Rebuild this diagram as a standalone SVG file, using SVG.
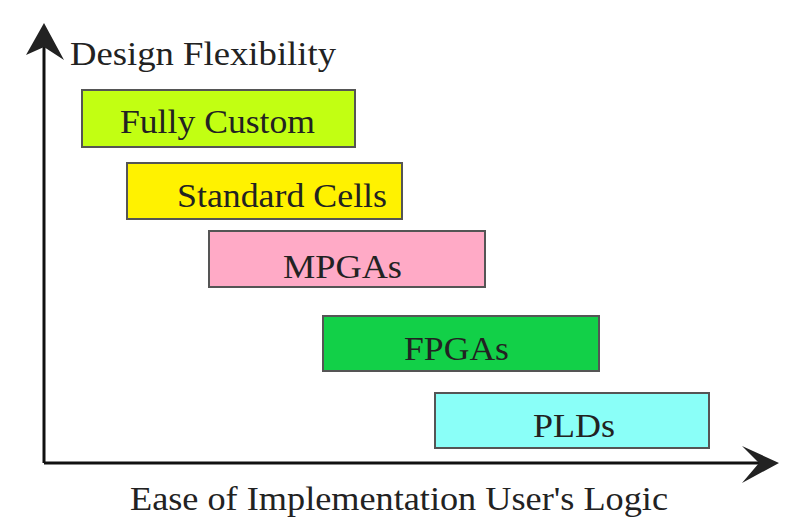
<svg xmlns="http://www.w3.org/2000/svg" width="809" height="525" viewBox="0 0 809 525">
<style>
.box{stroke:#555;stroke-width:2}
.lbl{font-family:"Liberation Serif","Times New Roman",serif;font-size:34px;fill:#222}
.axis{stroke:#111;stroke-width:3;fill:none}
</style>
<rect width="809" height="525" fill="#fff"/>
<g id="axes">
<path class="axis" d="M44,463 V40 M44,463 H765"/>
<path d="M44,23 L26,55 L44,47 L64,60 Z" fill="#222"/>
<path d="M779,463 L742,446 L759,463 L742,483 Z" fill="#222"/>
</g>
<text class="lbl" x="70" y="65" textLength="266" lengthAdjust="spacingAndGlyphs">Design Flexibility</text>
<text class="lbl" x="130" y="510" textLength="538" lengthAdjust="spacingAndGlyphs">Ease of Implementation User's Logic</text>
<g id="fully-custom">
<rect class="box" x="82" y="90" width="273" height="57" fill="#c2ff12"/>
<text class="lbl" x="120" y="133" textLength="195" lengthAdjust="spacingAndGlyphs">Fully Custom</text>
</g>
<g id="standard-cells">
<rect class="box" x="127" y="163" width="275" height="56" fill="#fff200"/>
<text class="lbl" x="177" y="207" textLength="210" lengthAdjust="spacingAndGlyphs">Standard Cells</text>
</g>
<g id="mpgas">
<rect class="box" x="209" y="231" width="276" height="56" fill="#ffaac6"/>
<text class="lbl" x="283" y="278" textLength="119" lengthAdjust="spacingAndGlyphs">MPGAs</text>
</g>
<g id="fpgas">
<rect class="box" x="323" y="316" width="276" height="55" fill="#12d048"/>
<text class="lbl" x="404" y="360" textLength="105" lengthAdjust="spacingAndGlyphs">FPGAs</text>
</g>
<g id="plds">
<rect class="box" x="435" y="393" width="274" height="55" fill="#8afff8"/>
<text class="lbl" x="533" y="437" textLength="82" lengthAdjust="spacingAndGlyphs">PLDs</text>
</g>
</svg>
